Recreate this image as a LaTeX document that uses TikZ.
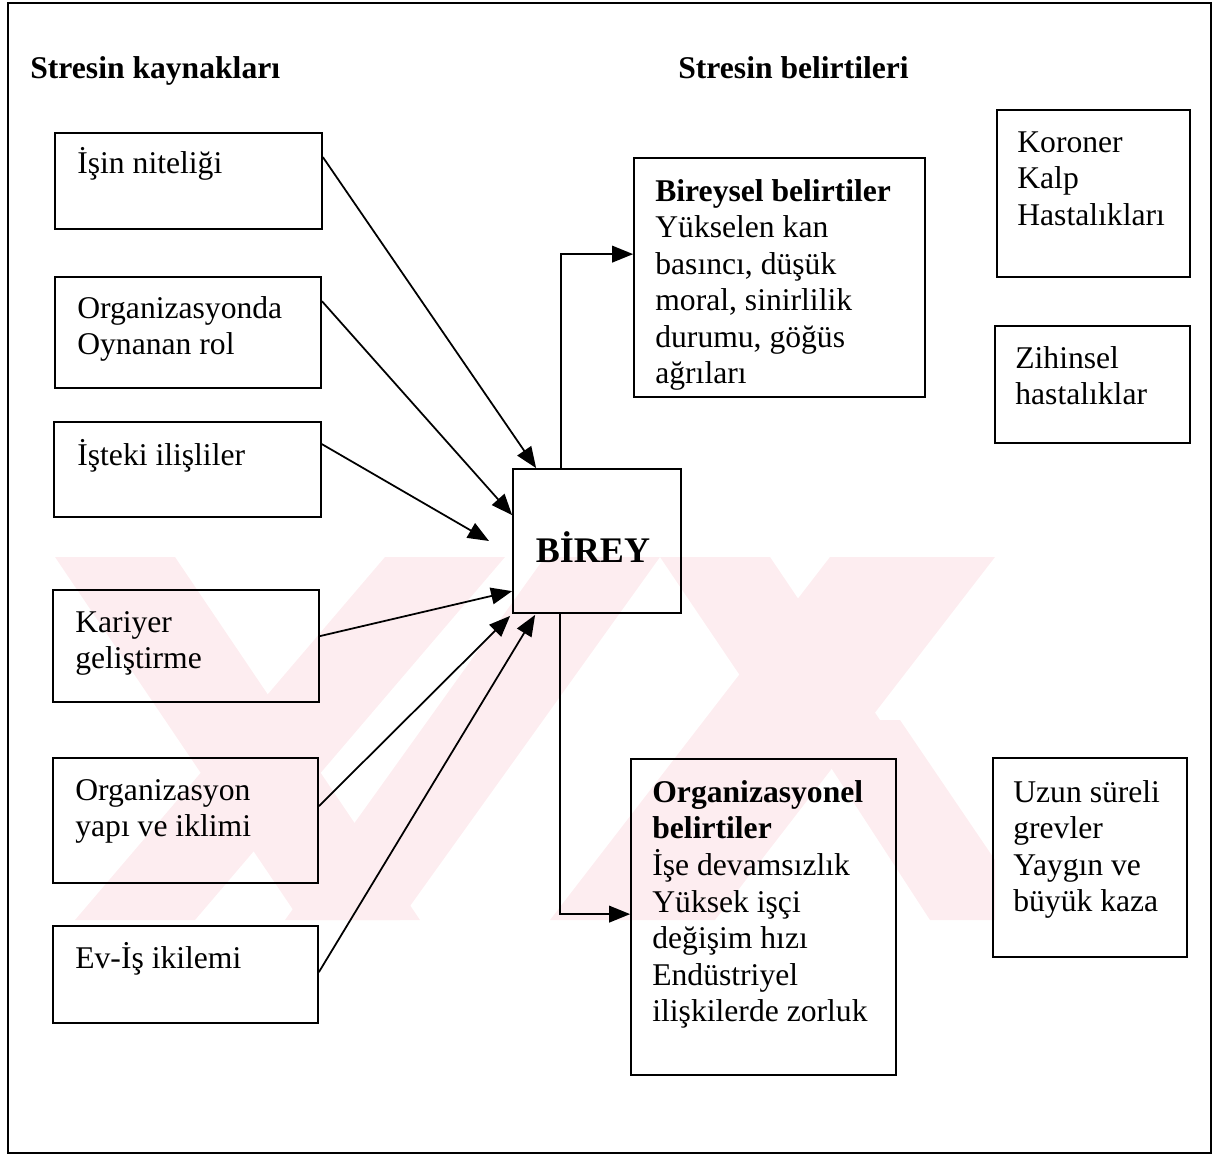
\documentclass[tikz,border=0pt]{standalone}
\usepackage{fontspec}
\setmainfont{Liberation Serif}
\usetikzlibrary{arrows.meta,calc,fit}
\definecolor{wm}{RGB}{253,237,240}
\newcommand\boxlines[1]{\begin{tabular}[t]{@{}l@{}}#1\end{tabular}}
\tikzset{
  box/.style={draw, line width=1pt, inner sep=0pt},
  txt/.style={inner sep=0pt, anchor=base west, font=\fontsize{18}{20.8}\selectfont},
  arr/.style={line width=1pt, -{Triangle[length=12pt,width=9.5pt]}},
}
\begin{document}
\begin{tikzpicture}[x=0.02cm,y=-0.02cm]
\useasboundingbox (0,0) rectangle (1225,1156);
% watermark
\fill[wm] (55,557) -- (175,557) -- (420,920) -- (300,920) -- cycle;
\fill[wm] (385,557) -- (505,557) -- (195,920) -- (75,920) -- cycle;
\fill[wm] (545,557) -- (660,557) -- (400,920) -- (285,920) -- cycle;
\fill[wm] (830,557) -- (995,557) -- (715,920) -- (550,920) -- cycle;
\fill[wm] (660,557) -- (770,557) -- (880,720) -- (770,720) -- cycle;
\fill[wm] (800,720) -- (900,720) -- (995,860) -- (995,920) -- (930,920) -- cycle;
% frame
\node[box, fit={(8,3)(1211,1153)}] (frame) {};
% titles
\node[txt, font=\fontsize{18}{20.8}\selectfont\bfseries] (t1) at (30,78) {Stresin kaynakları};
\node[txt, font=\fontsize{18}{20.8}\selectfont\bfseries] (t2) at (678,78) {Stresin belirtileri};
% left boxes
\node[box, fit={(55,133)(322,229)}] (b1) {};
\node[box, fit={(55,277)(321,388)}] (b2) {};
\node[box, fit={(54,422)(321,517)}] (b3) {};
\node[box, fit={(53,590)(319,702)}] (b4) {};
\node[box, fit={(53,758)(318,883)}] (b5) {};
\node[box, fit={(53,926)(318,1023)}] (b6) {};
\node[txt] (l1) at (77,173) {\boxlines{İşin niteliği}};
\node[txt] (l2) at (77,318) {\boxlines{Organizasyonda\\Oynanan rol}};
\node[txt] (l3) at (77,465) {\boxlines{İşteki ilişliler}};
\node[txt] (l4) at (75,632) {\boxlines{Kariyer\\geliştirme}};
\node[txt] (l5) at (75,800) {\boxlines{Organizasyon\\yapı ve iklimi}};
\node[txt] (l6) at (75,968) {\boxlines{Ev-İş ikilemi}};
% center
\node[box, fit={(513,469)(681,613)}] (bir) {};
\node[inner sep=0pt, anchor=base, font=\fontsize{20.5}{24}\selectfont\bfseries] (birt) at (593,562) {BİREY};
% right boxes
\node[box, fit={(634,158)(925,397)}] (bis) {};
\node[txt] (bist) at (655,201) {\boxlines{\textbf{Bireysel belirtiler}\\Yükselen kan\\basıncı, düşük\\moral, sinirlilik\\durumu, göğüs\\ağrıları}};
\node[box, fit={(631,759)(896,1075)}] (org) {};
\node[txt] (orgt) at (652,802) {\boxlines{\textbf{Organizasyonel}\\\textbf{belirtiler}\\İşe devamsızlık\\Yüksek işçi\\değişim hızı\\Endüstriyel\\ilişkilerde zorluk}};
\node[box, fit={(997,110)(1190,277)}] (kor) {};
\node[txt] (kort) at (1017,152) {\boxlines{Koroner\\Kalp\\Hastalıkları}};
\node[box, fit={(995,326)(1190,443)}] (zih) {};
\node[txt] (ziht) at (1015,368) {\boxlines{Zihinsel\\hastalıklar}};
\node[box, fit={(993,758)(1187,957)}] (uzn) {};
\node[txt] (uznt) at (1013,802) {\boxlines{Uzun süreli\\grevler\\Yaygın ve\\büyük kaza}};
% connectors
\coordinate (c3) at (489,541);
\draw[arr] ($(b1.north east)+(0,25)$) -- ($(bir.north west)+(24,0)$);
\draw[arr] ($(b2.north east)+(0,25)$) -- ($(bir.north west)+(0,47)$);
\draw[arr] ($(b3.north east)+(0,23)$) -- (c3);
\draw[arr] ($(b4.north east)+(0,47)$) -- ($(bir.north west)+(0,123)$);
\draw[arr] ($(b5.north east)+(0,49)$) -- ($(bir.south west)+(-2,2)$);
\draw[arr] ($(b6.north east)+(0,47)$) -- ($(bir.south west)+(23,1)$);
\draw[arr] ($(bir.north west)+(49,0)$) |- ($(bis.north west)+(0,97)$);
\draw[arr] ($(bir.south west)+(48,0)$) |- ($(org.north west)+(0,156)$);
\end{tikzpicture}
\end{document}
